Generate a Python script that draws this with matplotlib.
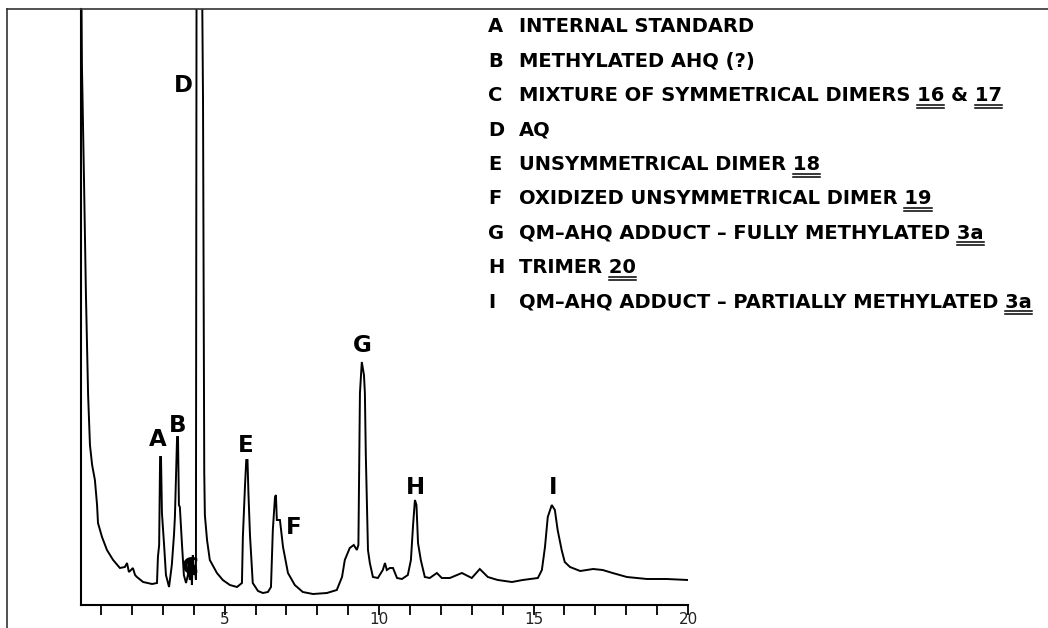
import matplotlib
matplotlib.use('Agg')
import matplotlib.pyplot as plt
from matplotlib.lines import Line2D
from matplotlib.font_manager import FontProperties

# retention time (min) and detector response
time = [0.30, 0.38, 0.45, 0.51, 0.58, 0.64, 0.71, 0.80, 0.87, 0.90,
        1.03, 1.19, 1.39, 1.61, 1.77, 1.84, 1.90, 1.97, 2.03, 2.10,
        2.16, 2.36, 2.65, 2.81, 2.84, 2.88, 2.91, 2.94, 2.97, 3.04,
        3.10, 3.20, 3.29, 3.36, 3.39, 3.46, 3.49, 3.52, 3.55, 3.62,
        3.68, 3.75, 3.81, 3.84, 3.87, 3.91, 3.94, 3.97, 4.01, 4.04,
        4.07, 4.10, 4.20, 4.30, 4.34, 4.36, 4.43, 4.52, 4.75, 4.94,
        5.17, 5.40, 5.56, 5.59, 5.66, 5.70, 5.74, 5.77, 5.82, 5.91,
        6.08, 6.24, 6.40, 6.50, 6.56, 6.63, 6.66, 6.69, 6.79, 6.89,
        7.05, 7.27, 7.53, 7.86, 8.31, 8.63, 8.80, 8.89, 9.05, 9.18,
        9.28, 9.33, 9.38, 9.44, 9.51, 9.54, 9.57, 9.60, 9.64, 9.70,
        9.80, 9.96, 10.12, 10.19, 10.25, 10.35, 10.45, 10.58, 10.74, 10.93,
        11.03, 11.10, 11.16, 11.21, 11.26, 11.35, 11.48, 11.64, 11.87, 12.03,
        12.29, 12.68, 13.00, 13.26, 13.52, 13.84, 14.30, 14.65, 15.14, 15.27,
        15.37, 15.46, 15.59, 15.69, 15.78, 15.91, 16.01, 16.18, 16.51, 16.93,
        17.24, 17.56, 18.02, 18.67, 19.31, 20.00]
signal = [900, 540, 420, 310, 210, 160, 140, 125, 100, 82,
          68, 55, 45, 37, 38, 42, 33, 35, 37, 30,
          28, 23, 21, 22, 48, 60, 148, 148, 92, 60,
          30, 18, 40, 70, 88, 168, 168, 100, 98, 60,
          30, 22, 30, 45, 25, 45, 20, 50, 30, 40,
          25, 900, 900, 505, 132, 90, 65, 45, 32, 25,
          20, 18, 22, 68, 120, 145, 145, 112, 70, 22,
          14, 12, 13, 18, 75, 108, 110, 85, 85, 58,
          32, 20, 13, 11, 12, 15, 28, 45, 57, 60,
          55, 60, 212, 243, 230, 212, 150, 108, 55, 42,
          28, 27, 35, 42, 35, 37, 37, 27, 26, 30,
          45, 80, 105, 100, 62, 45, 28, 27, 32, 27,
          27, 32, 27, 36, 28, 25, 23, 25, 27, 35,
          58, 88, 100, 95, 75, 55, 43, 38, 34, 36,
          35, 32, 28, 26, 26, 25]

peak_names = ['A', 'B', 'C', 'D', 'E', 'F', 'G', 'H', 'I']
peak_label_time = [2.84, 3.49, 3.88, 3.65, 5.69, 7.24, 9.44, 11.19, 15.62]
peak_label_height = [165, 180, 37, 519, 160, 78, 259, 117, 117]

legend_text = ['INTERNAL STANDARD',
               'METHYLATED AHQ (?)',
               'MIXTURE OF SYMMETRICAL DIMERS 16 & 17',
               'AQ',
               'UNSYMMETRICAL DIMER 18',
               'OXIDIZED UNSYMMETRICAL DIMER 19',
               'QM\u2013AHQ ADDUCT \u2013 FULLY METHYLATED 3a',
               'TRIMER 20',
               'QM\u2013AHQ ADDUCT \u2013 PARTIALLY METHYLATED 3a']
# compound numbers that carry a double underline
legend_refs = [[], [], ['16', '17'], [], ['18'], ['19'], ['3a'], ['20'], ['3a']]

minor_ticks = list(range(1, 21))
major_ticks = [5, 10, 15, 20]


W, H = 1048, 628
fig = plt.figure(figsize=(W / 100, H / 100), dpi=100)
fig.patch.set_facecolor('white')
ax = fig.add_axes([81 / W, 1 - 605 / H, (688 - 81) / W, (605 - 9) / H])

ax.plot(time, signal, color='black', lw=1.4, solid_joinstyle='miter')
ax.set_xlim(0.35, 20)
ax.set_ylim(0, 596)

for side in ['top', 'right']:
    ax.spines[side].set_visible(False)
for side in ['left', 'bottom']:
    ax.spines[side].set_linewidth(1.5)

ax.set_yticks([])
ax.set_xticks(minor_ticks)
ax.set_xticklabels([str(t) if t in major_ticks else '' for t in minor_ticks])
ax.tick_params(axis='x', direction='out', length=7, width=1.3, pad=-2,
               labelsize=11, labelcolor='#222222')

label_font = dict(family='DejaVu Sans', weight='bold', size=16.5)
for name, t, h in zip(peak_names, peak_label_time, peak_label_height):
    ax.text(t, h, name, ha='center', va='center', **label_font)

# page border of the scan
fig.add_artist(Line2D([7 / W, 1], [1 - 9 / H, 1 - 9 / H], color='#333333', lw=1.2))
fig.add_artist(Line2D([7 / W, 7 / W], [0, 1 - 9 / H], color='#333333', lw=1.2))

# key
key_font = dict(family='DejaVu Sans', weight='bold', size=14)
renderer = fig.canvas.get_renderer()
fp = FontProperties(**key_font)


def text_width(s):
    w, _, _ = renderer.get_text_width_height_descent(s, fp, ismath=False)
    return w


row_y = 27
text_x = 519
for name, label, refs in zip(peak_names, legend_text, legend_refs):
    fig.text(488 / W, 1 - row_y / H, name, ha='left', va='center', **key_font)
    fig.text(text_x / W, 1 - row_y / H, label, ha='left', va='center', **key_font)
    start = 0
    for ref in refs:
        idx = label.index(ref, start)
        start = idx + len(ref)
        right = text_x + text_width(label[:idx + len(ref)])
        left = right - text_width(ref)
        for off in (9, 12):
            yy = 1 - (row_y + off) / H
            fig.add_artist(Line2D([left / W, right / W], [yy, yy], color='black', lw=1.1))
    row_y += 34.4

fig.savefig('out.png', dpi=100, facecolor='white')
